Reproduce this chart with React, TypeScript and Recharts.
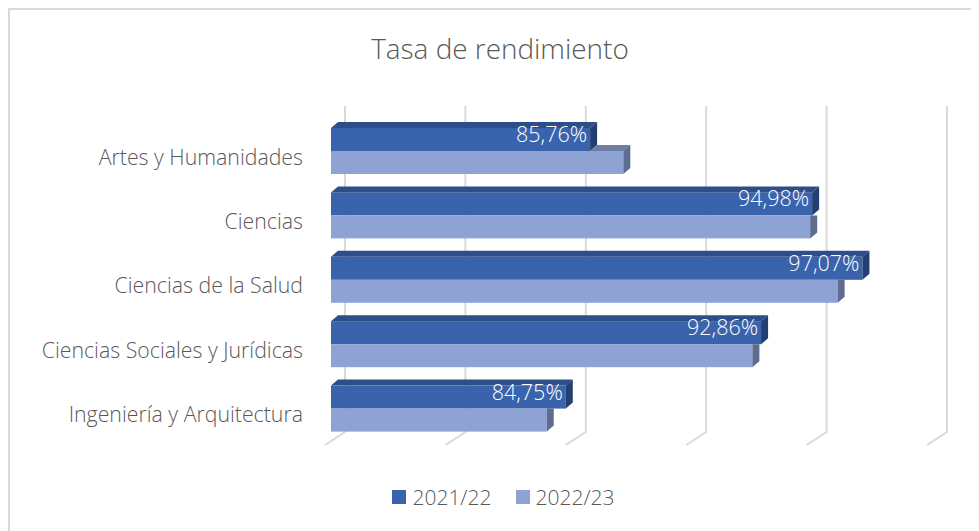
import { BarChart, Bar, XAxis, YAxis, CartesianGrid, LabelList } from "recharts";

const categories = [
  "Artes y Humanidades",
  "Ciencias",
  "Ciencias de la Salud",
  "Ciencias Sociales y Jurídicas",
  "Ingeniería y Arquitectura",
];
const serie2122 = [85.76, 94.98, 97.07, 92.86, 84.75];
const serie2223 = [87.14, 94.9, 96.04, 92.5, 83.96];
const xTicks = [75, 80, 85, 90, 95, 100];
const seriesNames = ["2021/22", "2022/23"];

const AXIS_MIN = 75;
const DX = 7;
const DY = 6;
const FONT = "'Open Sans', sans-serif";
const TEXT = "#595959";

const COLORS = {
  a: { front: "#3A63AD", top: "#2D4E89", side: "#233E70" },
  b: { front: "#8FA2D4", top: "#6E7DA5", side: "#5D6C90" },
};

const data = categories.map((name, i) => ({ name, a: serie2122[i], b: serie2223[i] }));

const FirstBar = (props: any) => {
  const { x, y, width: w, height: h } = props;
  const c = COLORS.a;
  return (
    <g>
      <rect x={x} y={y} width={w} height={h} fill={c.front} />
      <polygon points={`${x},${y} ${x + DX},${y - DY} ${x + w + DX},${y - DY} ${x + w},${y}`} fill={c.top} />
      <polygon
        points={`${x + w},${y} ${x + w + DX},${y - DY} ${x + w + DX},${y + h - DY} ${x + w},${y + h}`}
        fill={c.side}
      />
    </g>
  );
};

const SecondBar = (props: any) => {
  const { x, y, width: w, height: h, payload } = props;
  const c = COLORS.b;
  // width of the bar above, from the same scale
  const w1 = ((payload.a - AXIS_MIN) / (payload.b - AXIS_MIN)) * w;
  const side =
    w1 > w
      ? `${x + w},${y} ${x + w + DX},${y} ${x + w + DX},${y + h - DY} ${x + w},${y + h}`
      : `${x + w},${y} ${x + w + DX},${y - DY} ${x + w + DX},${y + h - DY} ${x + w},${y + h}`;
  return (
    <g>
      {w > w1 && (
        <polygon
          points={`${x + w1},${y} ${x + w1 + DX},${y - DY} ${x + w + DX},${y - DY} ${x + w},${y}`}
          fill={c.top}
        />
      )}
      <rect x={x} y={y} width={w} height={h} fill={c.front} />
      <polygon points={side} fill={c.side} />
    </g>
  );
};

const GridLine = (props: any) => {
  const { x1, y1, y2, key } = props;
  return (
    <path
      key={key}
      d={`M${x1 + 14},${y1 - 13} L${x1 + 14},${y2 - 9} L${x1 - 6},${y2 + 4}`}
      stroke="#D9D9D9"
      strokeWidth={2}
      fill="none"
    />
  );
};

const CategoryTick = (props: any) => {
  const { x, y, payload } = props;
  return (
    <text
      x={x}
      y={y + 6}
      dy="0.35em"
      textAnchor="end"
      fill={TEXT}
      fontSize={21.3}
      fontWeight={300}
      fontFamily={FONT}
    >
      {payload.value}
    </text>
  );
};

const ValueLabel = (props: any) => {
  const { x, y, width, height, value } = props;
  return (
    <text
      x={x + width - 3}
      y={y + height / 2 - 5}
      dy="0.35em"
      textAnchor="end"
      fill="#FFFFFF"
      fontSize={21.5}
      fontWeight={300}
      fontFamily={FONT}
    >
      {value.toFixed(2).replace(".", ",")}%
    </text>
  );
};

export default function App() {
  return (
    <div
      style={{
        position: "relative",
        width: 969,
        height: 521,
        borderTop: "2px solid #D9D9D9",
        borderLeft: "2px solid #D9D9D9",
        background: "#fff",
        overflow: "hidden",
        fontFamily: FONT,
        fontWeight: 300,
        color: TEXT,
      }}
    >
      <div style={{ position: "absolute", left: 0, width: 980, top: 19, textAlign: "center", fontSize: 27.9 }}>
        Tasa de rendimiento
      </div>
      <BarChart
        width={969}
        height={521}
        data={data}
        layout="vertical"
        margin={{ top: 109, right: 46, bottom: 90, left: 0 }}
        barSize={23}
        barGap={0}
        style={{ position: "absolute", left: 0, top: 0 }}
      >
        <CartesianGrid horizontal={false} vertical={GridLine} />
        <XAxis type="number" domain={[AXIS_MIN, 100]} ticks={xTicks} hide allowDataOverflow />
        <YAxis
          type="category"
          dataKey="name"
          width={321}
          axisLine={false}
          tickLine={false}
          tickSize={0}
          tickMargin={28}
          tick={<CategoryTick />}
          interval={0}
        />
        <Bar dataKey="a" name={seriesNames[0]} shape={<FirstBar />} isAnimationActive={false}>
          <LabelList dataKey="a" content={<ValueLabel />} />
        </Bar>
        <Bar dataKey="b" name={seriesNames[1]} shape={<SecondBar />} isAnimationActive={false} />
      </BarChart>
      <div
        style={{
          position: "absolute",
          top: 473,
          left: 9,
          width: 969,
          display: "flex",
          justifyContent: "center",
          gap: 24,
          fontSize: 21,
        }}
      >
        {seriesNames.map((n, i) => (
          <div key={n} style={{ display: "flex", alignItems: "center", gap: 6 }}>
            <div style={{ width: 14, height: 14, background: i === 0 ? COLORS.a.front : COLORS.b.front }} />
            <span>{n}</span>
          </div>
        ))}
      </div>
    </div>
  );
}
